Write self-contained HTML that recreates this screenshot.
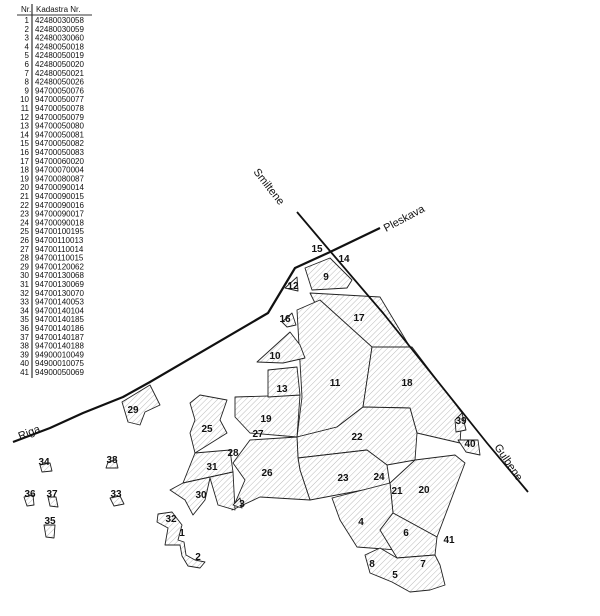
<!DOCTYPE html>
<html><head><meta charset="utf-8"><style>
body{margin:0;background:#fff;}
svg{display:block}
text{font-family:"Liberation Sans",sans-serif;fill:#111}
.t{font-size:8px}
.l{font-size:10px;font-weight:bold}
.r{font-size:11px}
</style></head><body>
<svg width="600" height="616" viewBox="0 0 600 616" xmlns="http://www.w3.org/2000/svg">
<defs>
<pattern id="h" width="4" height="4" patternUnits="userSpaceOnUse" patternTransform="rotate(45)">
<rect width="4" height="4" fill="#fff"/><line x1="0" y1="0" x2="0" y2="4" stroke="#aaa" stroke-width="0.8"/>
</pattern>
</defs>
<!-- table -->
<line x1="32" y1="4" x2="32" y2="378" stroke="#333" stroke-width="1.2"/>
<line x1="17" y1="15" x2="92" y2="15" stroke="#333" stroke-width="1"/>
<text class="t" x="21" y="12">Nr.</text><text class="t" x="36" y="12">Kadastra Nr.</text>
<g class="t">
<text x="29" y="23" text-anchor="end">1</text><text x="35" y="23">42480030058</text>
<text x="29" y="31.8" text-anchor="end">2</text><text x="35" y="31.8">42480030059</text>
<text x="29" y="40.6" text-anchor="end">3</text><text x="35" y="40.6">42480030060</text>
<text x="29" y="49.4" text-anchor="end">4</text><text x="35" y="49.4">42480050018</text>
<text x="29" y="58.2" text-anchor="end">5</text><text x="35" y="58.2">42480050019</text>
<text x="29" y="67" text-anchor="end">6</text><text x="35" y="67">42480050020</text>
<text x="29" y="75.8" text-anchor="end">7</text><text x="35" y="75.8">42480050021</text>
<text x="29" y="84.6" text-anchor="end">8</text><text x="35" y="84.6">42480050026</text>
<text x="29" y="93.4" text-anchor="end">9</text><text x="35" y="93.4">94700050076</text>
<text x="29" y="102.2" text-anchor="end">10</text><text x="35" y="102.2">94700050077</text>
<text x="29" y="111" text-anchor="end">11</text><text x="35" y="111">94700050078</text>
<text x="29" y="119.8" text-anchor="end">12</text><text x="35" y="119.8">94700050079</text>
<text x="29" y="128.6" text-anchor="end">13</text><text x="35" y="128.6">94700050080</text>
<text x="29" y="137.4" text-anchor="end">14</text><text x="35" y="137.4">94700050081</text>
<text x="29" y="146.2" text-anchor="end">15</text><text x="35" y="146.2">94700050082</text>
<text x="29" y="155" text-anchor="end">16</text><text x="35" y="155">94700050083</text>
<text x="29" y="163.8" text-anchor="end">17</text><text x="35" y="163.8">94700060020</text>
<text x="29" y="172.6" text-anchor="end">18</text><text x="35" y="172.6">94700070004</text>
<text x="29" y="181.4" text-anchor="end">19</text><text x="35" y="181.4">94700080087</text>
<text x="29" y="190.2" text-anchor="end">20</text><text x="35" y="190.2">94700090014</text>
<text x="29" y="199" text-anchor="end">21</text><text x="35" y="199">94700090015</text>
<text x="29" y="207.8" text-anchor="end">22</text><text x="35" y="207.8">94700090016</text>
<text x="29" y="216.6" text-anchor="end">23</text><text x="35" y="216.6">94700090017</text>
<text x="29" y="225.4" text-anchor="end">24</text><text x="35" y="225.4">94700090018</text>
<text x="29" y="234.2" text-anchor="end">25</text><text x="35" y="234.2">94700100195</text>
<text x="29" y="243" text-anchor="end">26</text><text x="35" y="243">94700110013</text>
<text x="29" y="251.8" text-anchor="end">27</text><text x="35" y="251.8">94700110014</text>
<text x="29" y="260.6" text-anchor="end">28</text><text x="35" y="260.6">94700110015</text>
<text x="29" y="269.4" text-anchor="end">29</text><text x="35" y="269.4">94700120062</text>
<text x="29" y="278.2" text-anchor="end">30</text><text x="35" y="278.2">94700130068</text>
<text x="29" y="287" text-anchor="end">31</text><text x="35" y="287">94700130069</text>
<text x="29" y="295.8" text-anchor="end">32</text><text x="35" y="295.8">94700130070</text>
<text x="29" y="304.6" text-anchor="end">33</text><text x="35" y="304.6">94700140053</text>
<text x="29" y="313.4" text-anchor="end">34</text><text x="35" y="313.4">94700140104</text>
<text x="29" y="322.2" text-anchor="end">35</text><text x="35" y="322.2">94700140185</text>
<text x="29" y="331" text-anchor="end">36</text><text x="35" y="331">94700140186</text>
<text x="29" y="339.8" text-anchor="end">37</text><text x="35" y="339.8">94700140187</text>
<text x="29" y="348.6" text-anchor="end">38</text><text x="35" y="348.6">94700140188</text>
<text x="29" y="357.4" text-anchor="end">39</text><text x="35" y="357.4">94900010049</text>
<text x="29" y="366.2" text-anchor="end">40</text><text x="35" y="366.2">94900010075</text>
<text x="29" y="375" text-anchor="end">41</text><text x="35" y="375">94900050069</text>
</g>
<!-- parcels -->
<g fill="url(#h)" stroke="#222" stroke-width="0.9" stroke-linejoin="round">
<polygon points="305,268 330,258 352,280 347,288 312,290"/>
<polygon points="310,293 380,297 410,347 347,347 322,317"/>
<polygon points="297,310 320,300 372,347 363,407 337,427 297,437 302,397"/>
<polygon points="372,347 412,347 462,413 460,443 417,433 410,408 363,407"/>
<polygon points="363,407 410,408 417,433 415,460 387,465 367,450 298,458 297,437 337,427"/>
<polygon points="298,458 367,450 387,465 390,485 310,500 300,470"/>
<polygon points="233,463 250,440 297,437 298,458 300,470 310,500 260,497 232,510 245,480"/>
<polygon points="235,397 300,395 297,437 250,433 235,417"/>
<polygon points="268,370 297,367 300,395 268,397"/>
<polygon points="190,403 200,395 227,400 220,420 227,433 195,453 190,433 195,420"/>
<polygon points="195,453 230,450 233,472 183,483"/>
<polygon points="170,490 183,483 233,472 235,510 218,505 210,478 205,500 193,515 185,500"/>
<polygon points="415,460 455,455 465,463 437,537 393,513 390,483"/>
<polygon points="332,498 390,483 393,513 380,530 397,550 357,547 340,520"/>
<polygon points="393,513 437,537 435,555 397,558 380,530"/>
<polygon points="365,555 380,548 397,558 435,555 440,565 445,585 430,590 410,592 392,582 370,573"/>
<polygon points="257,362 290,332 300,345 305,358 283,363"/>
<polygon points="458,440 478,440 480,455 466,452"/>
<polygon points="455,420 462,413 466,430 456,432"/>
<polygon points="285,288 297,277 298,291"/>
<polygon points="282,322 292,313 296,325 287,327"/>
<polygon points="122,402 150,385 160,405 145,412 140,425 128,422"/>
<polygon points="158,514 172,512 182,525 178,540 184,542 186,555 195,560 205,562 200,568 188,566 182,556 180,545 165,545 168,528 157,522"/>
<polygon points="233,505 240,498 242,508"/>
<polygon points="40,465 50,463 52,471 42,472"/>
<polygon points="108,462 116,460 118,468 106,468"/>
<polygon points="24,497 33,495 34,505 27,506"/>
<polygon points="48,497 56,497 58,507 50,506"/>
<polygon points="110,498 120,496 124,504 114,506"/>
<polygon points="44,525 55,525 54,538 46,537"/>
</g>
<!-- roads -->
<g fill="none" stroke="#111" stroke-linejoin="round">
<polyline points="13,442 50,428 83,413 123,397 150,382 268,313 295,268 330,252" stroke-width="2.2"/>
<polyline points="330,252 380,228" stroke-width="2.2"/>
<polyline points="297,212 330,251 383,313 487,443 528,492" stroke-width="1.8"/>
</g>
<text class="r" transform="translate(253,172) rotate(52)">Smiltene</text>
<text class="r" transform="translate(386,232) rotate(-28)">Pleskava</text>
<text class="r" transform="translate(494,447) rotate(56)">Gulbene</text>
<text class="r" transform="translate(20,440) rotate(-22)">Riga</text>
<g class="l" text-anchor="middle">
<text x="317" y="252">15</text><text x="344" y="262">14</text><text x="326" y="280">9</text><text x="293" y="289">12</text>
<text x="359" y="321">17</text><text x="285" y="322">16</text><text x="275" y="359">10</text><text x="335" y="386">11</text>
<text x="407" y="386">18</text><text x="282" y="392">13</text><text x="266" y="422">19</text><text x="258" y="437">27</text>
<text x="207" y="432">25</text><text x="357" y="440">22</text><text x="233" y="456">28</text><text x="461" y="424">39</text>
<text x="470" y="447">40</text><text x="212" y="470">31</text><text x="267" y="476">26</text><text x="343" y="481">23</text>
<text x="379" y="480">24</text><text x="397" y="494">21</text><text x="424" y="493">20</text><text x="201" y="498">30</text>
<text x="242" y="507">3</text><text x="361" y="525">4</text><text x="406" y="536">6</text><text x="449" y="543">41</text>
<text x="171" y="522">32</text><text x="182" y="536">1</text><text x="198" y="560">2</text><text x="372" y="567">8</text>
<text x="395" y="578">5</text><text x="423" y="567">7</text><text x="133" y="413">29</text><text x="44" y="465">34</text>
<text x="112" y="463">38</text><text x="30" y="497">36</text><text x="52" y="497">37</text><text x="116" y="497">33</text>
<text x="50" y="524">35</text>
</g>
</svg>
</body></html>
